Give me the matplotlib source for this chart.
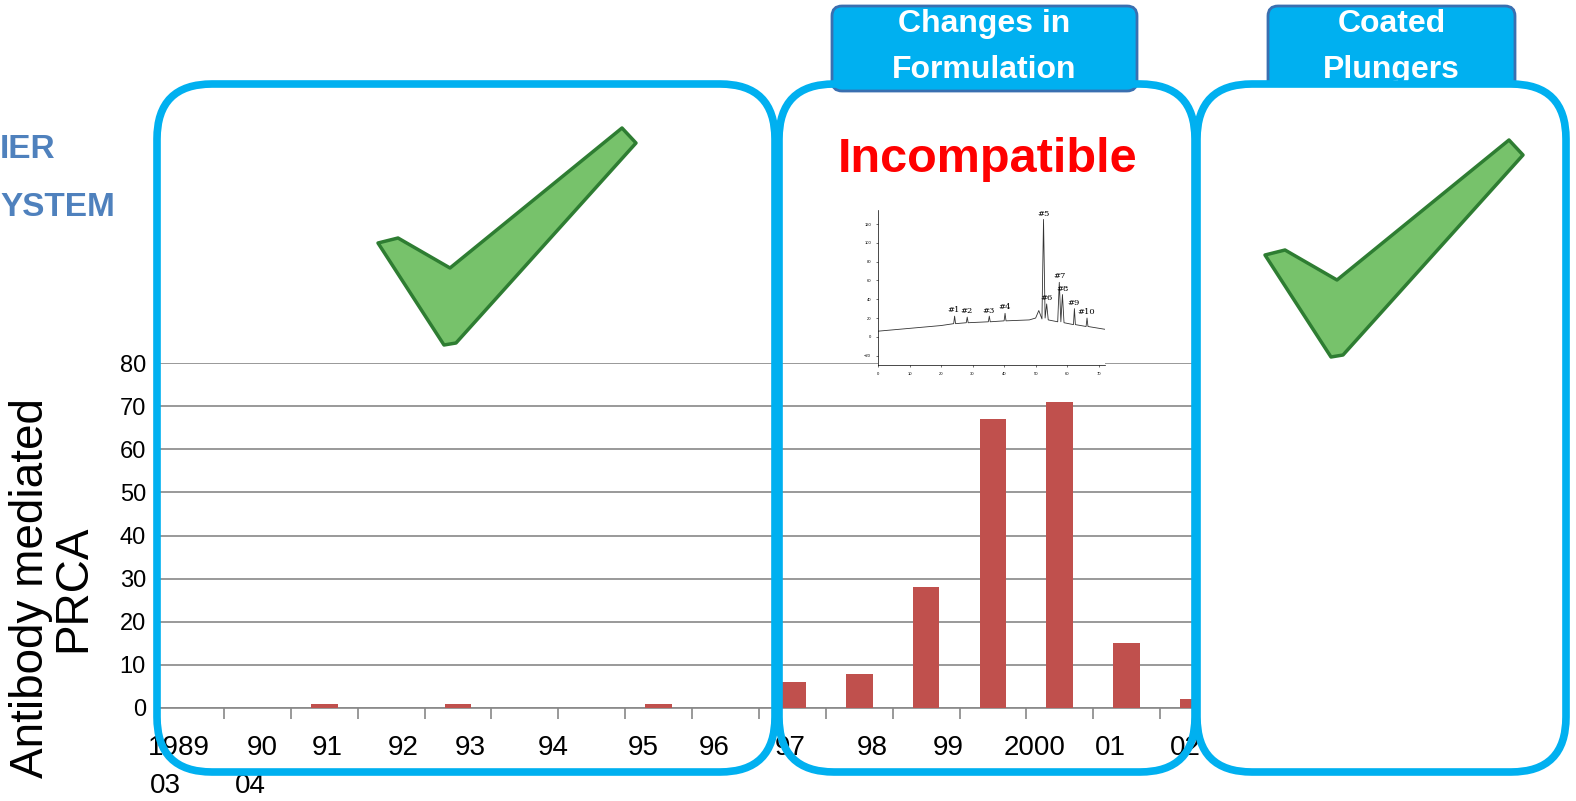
import matplotlib.pyplot as plt
from matplotlib.patches import FancyBboxPatch, Polygon

plt.rcParams['font.family'] = ['Liberation Sans', 'DejaVu Sans']

W, H = 1576, 801

# bar data: 16 slots along the axis
slot_values = [0, 0, 1, 0, 1, 0, 0, 1, 0, 6, 8, 28, 67, 71, 15, 2]
year_labels = ['1989', '90', '91', '92', '93', '94', '95', '96',
               '97', '98', '99', '2000', '01', '02']
year_label_px = [179, 262, 327, 403, 470, 553, 643, 714,
                 790, 872, 948, 1035, 1110, 1185]
extra_labels = ['03', '04']
extra_label_px = [165, 250]

# chromatogram inset trace (x, y)
chrom_x = [0, 10, 20, 24, 24.3, 24.6, 28, 28.3, 28.6, 35, 35.3, 35.6, 40, 40.3, 40.6,
           48, 50, 51, 52, 52.5, 53, 53.5, 54, 57, 57.5, 58, 58.5, 59, 62, 62.3, 62.6,
           66, 66.3, 66.6, 72]
chrom_y = [6, 9, 12, 14, 22, 14, 15, 21, 15, 16, 22, 16, 17, 25, 17,
           18, 20, 28, 19, 125, 20, 35, 18, 16, 58, 16, 45, 15, 13, 30, 13,
           11, 20, 11, 8]

fig = plt.figure(figsize=(W / 100, H / 100), dpi=100)

ax = fig.add_axes([157 / W, (H - 708) / H, (1227 - 157) / W, (708 - 363) / H])
x = list(range(len(slot_values)))
ax.bar([i + 0.5 for i in x], slot_values, width=0.4, color='#C0504D', zorder=3)
ax.set_xlim(0, len(slot_values))
ax.set_ylim(0, 80)
ax.set_yticks(range(0, 81, 10))
ax.tick_params(axis='y', length=0, labelsize=17, pad=8)
ax.yaxis.grid(True, color='#888888', linewidth=1.2)
ax.set_xticks(range(len(slot_values) + 1))
ax.set_xticklabels([])
ax.tick_params(axis='x', length=8, color='#888888', width=1.2)
for s in ['top', 'right', 'left']:
    ax.spines[s].set_visible(False)
ax.spines['bottom'].set_color('#888888')
ax.spines['bottom'].set_linewidth(1.2)

# overlay in pixel coordinates
ov = fig.add_axes([0, 0, 1, 1], facecolor='none')
ov.set_xlim(0, W)
ov.set_ylim(H, 0)
ov.axis('off')

for lab, px in zip(year_labels, year_label_px):
    ov.text(px, 748, lab, ha='center', va='center', fontsize=20)
for lab, px in zip(extra_labels, extra_label_px):
    ov.text(px, 786, lab, ha='center', va='center', fontsize=20)

ov.text(52, 588, 'Antibody mediated\nPRCA', rotation=90, ha='center', va='center',
        fontsize=33, linespacing=0.95)
ov.text(0, 150, 'IER', color='#4F81BD', fontsize=24, fontweight='bold', va='center')
ov.text(0, 207, 'YSTEM', color='#4F81BD', fontsize=24, fontweight='bold', va='center')

# top label boxes
for (x0, x1, l1, l2) in [(832, 1137, 'Changes in', 'Formulation'),
                         (1268, 1515, 'Coated', 'Plungers')]:
    ov.add_patch(FancyBboxPatch((x0, 6), x1 - x0, 85, boxstyle='round,pad=0,rounding_size=10',
                                fc='#00B0F0', ec='#3A6FB0', lw=2, zorder=2))
    ov.text((x0 + x1) / 2, 24, l1, color='white', fontsize=23, fontweight='bold',
            ha='center', va='center', zorder=3)
    ov.text((x0 + x1) / 2, 70, l2, color='white', fontsize=23, fontweight='bold',
            ha='center', va='center', zorder=3)

# big rounded frames
for (x0, x1) in [(157, 775), (779, 1195), (1197, 1566)]:
    ov.add_patch(FancyBboxPatch((x0, 84), x1 - x0, 688, boxstyle='round,pad=0,rounding_size=55',
                                fc='white' if x0 > 1000 else 'none', ec='#00B0F0', lw=5.5, zorder=4))

ov.text(988, 160, 'Incompatible', color='red', fontsize=35, fontweight='bold',
        ha='center', va='center', zorder=5)

# check marks
check = [(378, 243), (398, 238), (450, 268), (622, 128), (636, 143), (456, 343), (444, 345)]
for dx, dy in [(0, 0), (887, 12)]:
    ov.add_patch(Polygon([(px + dx, py + dy) for px, py in check], closed=True,
                         fc='#77C26B', ec='#2E7D32', lw=2.5, joinstyle='round', zorder=6))

# chromatogram inset
ins = fig.add_axes([878 / W, (H - 365) / H, (1105 - 878) / W, (365 - 210) / H])
ins.plot(chrom_x, chrom_y, color='#333333', lw=0.6)
ins.set_xlim(0, 72)
ins.set_ylim(-30, 135)
ins.tick_params(labelsize=3, length=1.5, width=0.4)
for s in ['top', 'right']:
    ins.spines[s].set_visible(False)
for s in ['left', 'bottom']:
    ins.spines[s].set_linewidth(0.5)
peaks = [(24, 24, '#1'), (28, 23, '#2'), (35, 23, '#3'), (40, 27, '#4'), (52.5, 127, '#5'),
         (53.5, 37, '#6'), (57.5, 60, '#7'), (58.5, 47, '#8'), (62, 32, '#9'), (66, 22, '#10')]
for px, py, lab in peaks:
    ins.text(px, py, lab, fontsize=6, family='serif', ha='center', va='bottom')

fig.savefig('out.png', dpi=100)
